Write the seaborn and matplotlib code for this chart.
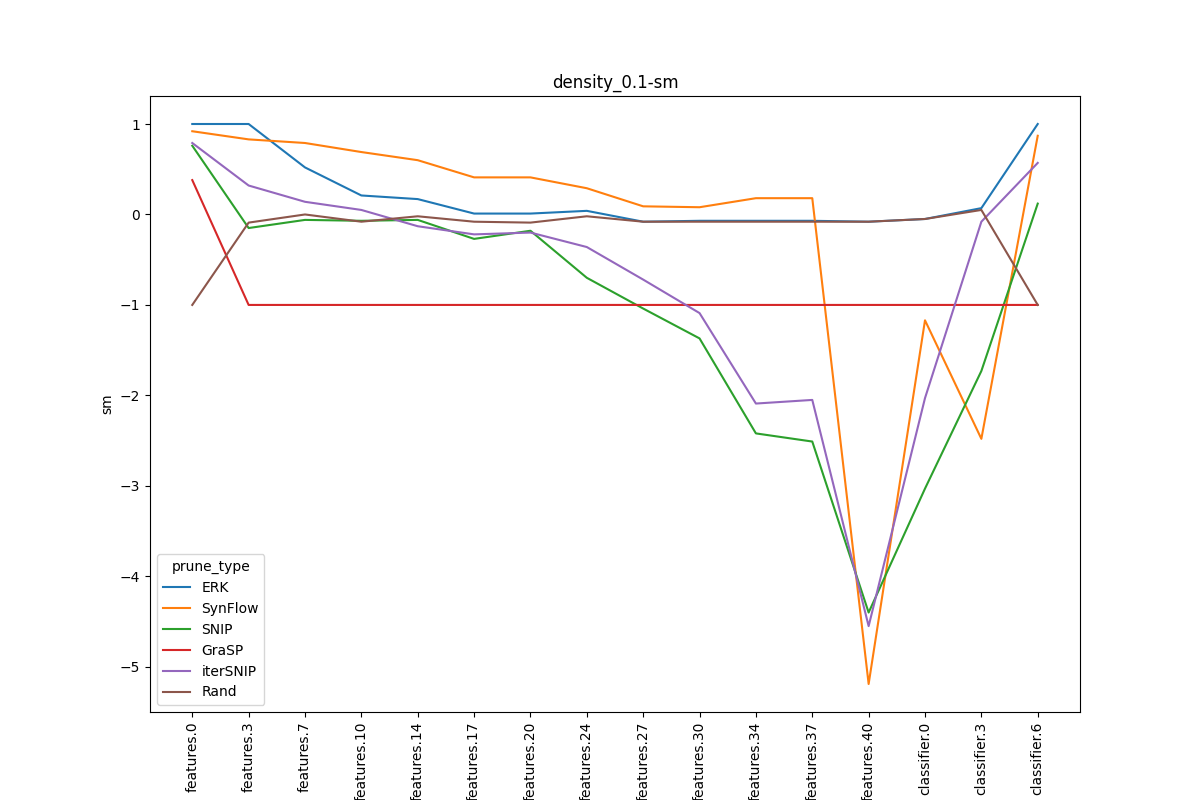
import matplotlib
matplotlib.use("Agg")
import matplotlib.pyplot as plt
import seaborn as sns
import pandas as pd

layers = ["features.0","features.3","features.7","features.10","features.14","features.17","features.20",
          "features.24","features.27","features.30","features.34","features.37","features.40",
          "classifier.0","classifier.3","classifier.6"]
erk = [1,1,0.52,0.21,0.17,0.01,0.01,0.04,-0.08,-0.07,-0.07,-0.07,-0.08,-0.05,0.07,1]
synflow = [0.92,0.83,0.79,0.69,0.6,0.41,0.41,0.29,0.09,0.08,0.18,0.18,-5.19,-1.17,-2.48,0.87]
snip = [0.76,-0.15,-0.06,-0.07,-0.06,-0.27,-0.18,-0.7,-1.04,-1.37,-2.42,-2.51,-4.4,-3.03,-1.73,0.12]
grasp = [0.38]+[-1]*15
itersnip = [0.79,0.32,0.14,0.05,-0.13,-0.22,-0.2,-0.36,-0.72,-1.09,-2.09,-2.05,-4.55,-2.03,-0.08,0.57]
rand = [-1,-0.09,0,-0.08,-0.02,-0.08,-0.09,-0.02,-0.08,-0.08,-0.08,-0.08,-0.08,-0.05,0.05,-1]

series = {"ERK":erk,"SynFlow":synflow,"SNIP":snip,"GraSP":grasp,"iterSNIP":itersnip,"Rand":rand}
rows = []
for k, v in series.items():
    for l, y in zip(layers, v):
        rows.append({"layer": l, "sm": y, "prune_type": k})
df = pd.DataFrame(rows)

fig, ax = plt.subplots(figsize=(12, 8), dpi=100)
sns.lineplot(data=df, x="layer", y="sm", hue="prune_type", ax=ax)
ax.set_xlabel("")
ax.set_title("density_0.1-sm")
plt.xticks(rotation=90)
ax.legend(title="prune_type", loc="lower left")
fig.savefig("out.png")
